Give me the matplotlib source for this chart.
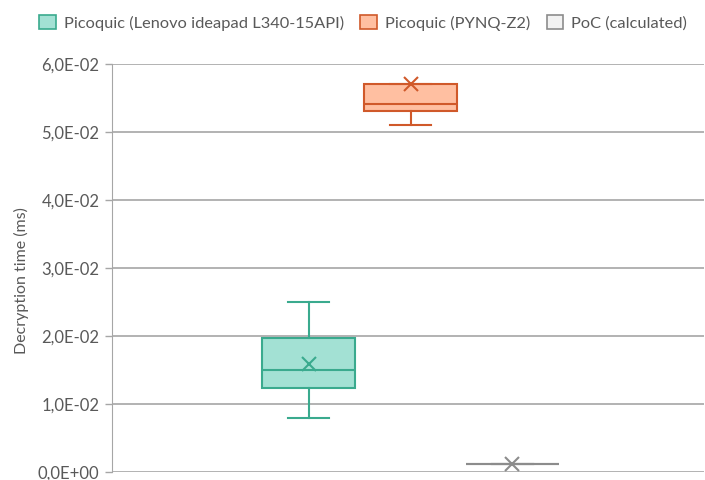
import matplotlib
matplotlib.use("Agg")
import matplotlib.pyplot as plt
from matplotlib.patches import Patch
from matplotlib.ticker import FuncFormatter

plt.rcParams['font.family'] = ['Lato', 'DejaVu Sans']

series = ["Picoquic (Lenovo ideapad L340-15API)", "Picoquic (PYNQ-Z2)", "PoC (calculated)"]
whislo = [0.0080, 0.0510, 0.0012]
q1 = [0.01235, 0.0531, 0.0012]
med = [0.0150, 0.0541, 0.0012]
q3 = [0.0197, 0.0570, 0.0012]
whishi = [0.0250, 0.0570, 0.0012]
mean = [0.0159, 0.0570, 0.0012]

faces = ["#A3E1D4", "#FFBFA1", "#F2F2F2"]
edges = ["#3AAA8E", "#D0592A", "#8C8C8C"]

fig = plt.figure(figsize=(7.05, 4.8), dpi=100)
ax = fig.add_axes([112/705, 8/480, 592/705, 408/480])

positions = [-1, 0, 1]
for i in range(3):
    st = [dict(whislo=whislo[i], q1=q1[i], med=med[i], q3=q3[i], whishi=whishi[i],
               mean=mean[i], fliers=[], label=series[i])]
    ax.bxp(st, positions=[positions[i]], widths=0.91, patch_artist=True, showmeans=True,
           boxprops=dict(facecolor=faces[i], edgecolor=edges[i], linewidth=1.5),
           medianprops=dict(color=edges[i], linewidth=1.5),
           whiskerprops=dict(color=edges[i], linewidth=1.5),
           capprops=dict(color=edges[i], linewidth=1.5),
           capwidths=0.4,
           meanprops=dict(marker='x', markeredgecolor=edges[i], markersize=10, markeredgewidth=1.5),
           zorder=3)

ax.set_xlim(-2.93, 2.88)
ax.set_ylim(0, 0.06)
ax.set_yticks([0, 0.01, 0.02, 0.03, 0.04, 0.05, 0.06])

def fmt(v, p):
    if v == 0:
        return "0,0E+00"
    s = "%.1E" % v
    return s.replace(".", ",")
ax.yaxis.set_major_formatter(FuncFormatter(fmt))
ax.set_xticks([])
ax.yaxis.grid(True, color="#A6A6A6", linewidth=1.2, zorder=0)
ax.set_axisbelow(True)
for s in ["top", "right", "bottom"]:
    ax.spines[s].set_visible(False)
ax.spines["left"].set_color("#A6A6A6")
ax.tick_params(axis='y', colors="#A6A6A6", labelcolor="#595959", labelsize=12, length=5, width=1, pad=4)
ax.set_ylabel("Decryption time (ms)", color="#595959", fontsize=11.5)
ax.yaxis.set_label_coords(-0.14, 0.47)

handles = [Patch(facecolor=faces[i], edgecolor=edges[i], linewidth=1.2, label=series[i]) for i in range(3)]
leg = fig.legend(handles=handles, loc="upper center", bbox_to_anchor=(0.515, 1.0), ncol=3, frameon=False,
                 fontsize=11.8, handlelength=1.0, handleheight=1.0, columnspacing=1.0, handletextpad=0.5)
for t in leg.get_texts():
    t.set_color("#595959")

fig.savefig("out.png", dpi=100)
